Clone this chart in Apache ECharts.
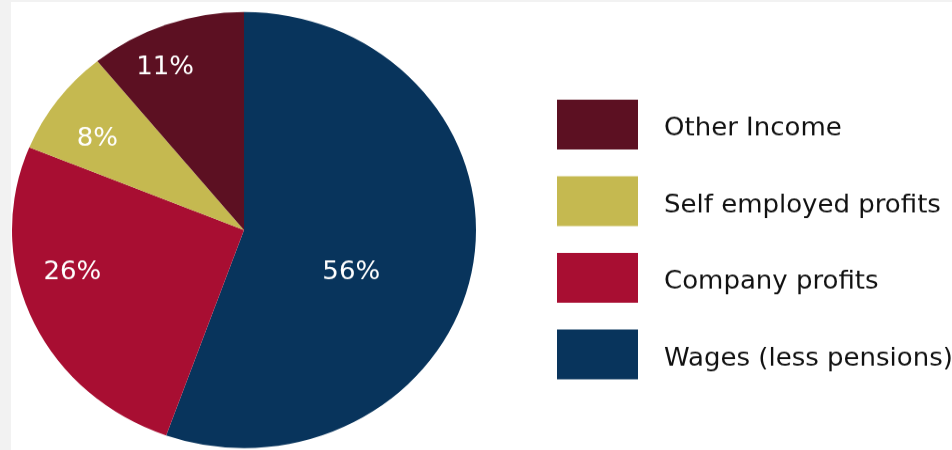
<!DOCTYPE html>
<html>
<head>
<meta charset="utf-8">
<script src="https://cdn.jsdelivr.net/npm/echarts@6/dist/echarts.min.js"></script>
<style>
  html, body { margin: 0; padding: 0; background: #f2f2f2; width: 952px; height: 450px; overflow: hidden; }
  #panel { position: absolute; left: 11px; top: 2px; right: 0; bottom: 0; background: #ffffff; }
  #chart { position: absolute; left: 0; top: 0; width: 952px; height: 479px; transform: scaleY(0.94); transform-origin: 0 0; }
</style>
</head>
<body>
<div id="panel"></div>
<div id="chart"></div>
<script>
// Data
const categories = ['Wages (less pensions)', 'Company profits', 'Self employed profits', 'Other Income'];
const values = [56, 26, 8, 11];
const legendOrder = ['Other Income', 'Self employed profits', 'Company profits', 'Wages (less pensions)'];

// Styles
const colors = ['#08345c', '#a80e32', '#c5b950', '#5c1022'];
const labelOffsets = [[-10, 25], [-63, -3], [-51, -26], [-39, -60]];

const chart = echarts.init(document.getElementById('chart'), null, { renderer: 'canvas' });
const FONT = '"DejaVu Sans", sans-serif';

chart.setOption({
  animation: false,
  backgroundColor: 'transparent',
  legend: {
    orient: 'vertical',
    left: 557,
    top: 106,
    padding: 0,
    icon: 'rect',
    itemWidth: 81,
    itemHeight: 53,
    itemGap: 28.5,
    selectedMode: false,
    data: legendOrder,
    formatter: '{t|{name}}',
    textStyle: {
      fontFamily: FONT,
      fontSize: 26,
      color: '#111111',
      rich: {
        t: {
          fontFamily: FONT,
          fontSize: 26,
          color: '#111111',
          padding: [10, 0, 0, 21]
        }
      }
    }
  },
  series: [{
    type: 'pie',
    center: [244, 244.7],
    radius: 232,
    startAngle: 90,
    clockwise: true,
    silent: true,
    label: {
      show: true,
      position: 'inside',
      formatter: '{c}%',
      color: '#ffffff',
      fontFamily: FONT,
      fontSize: 26
    },
    labelLine: { show: false },
    itemStyle: { borderWidth: 0 },
    emphasis: { disabled: true },
    data: categories.map((name, i) => ({
      name: name,
      value: values[i],
      itemStyle: { color: colors[i] },
      label: { offset: labelOffsets[i] }
    }))
  }]
});
</script>
</body>
</html>
